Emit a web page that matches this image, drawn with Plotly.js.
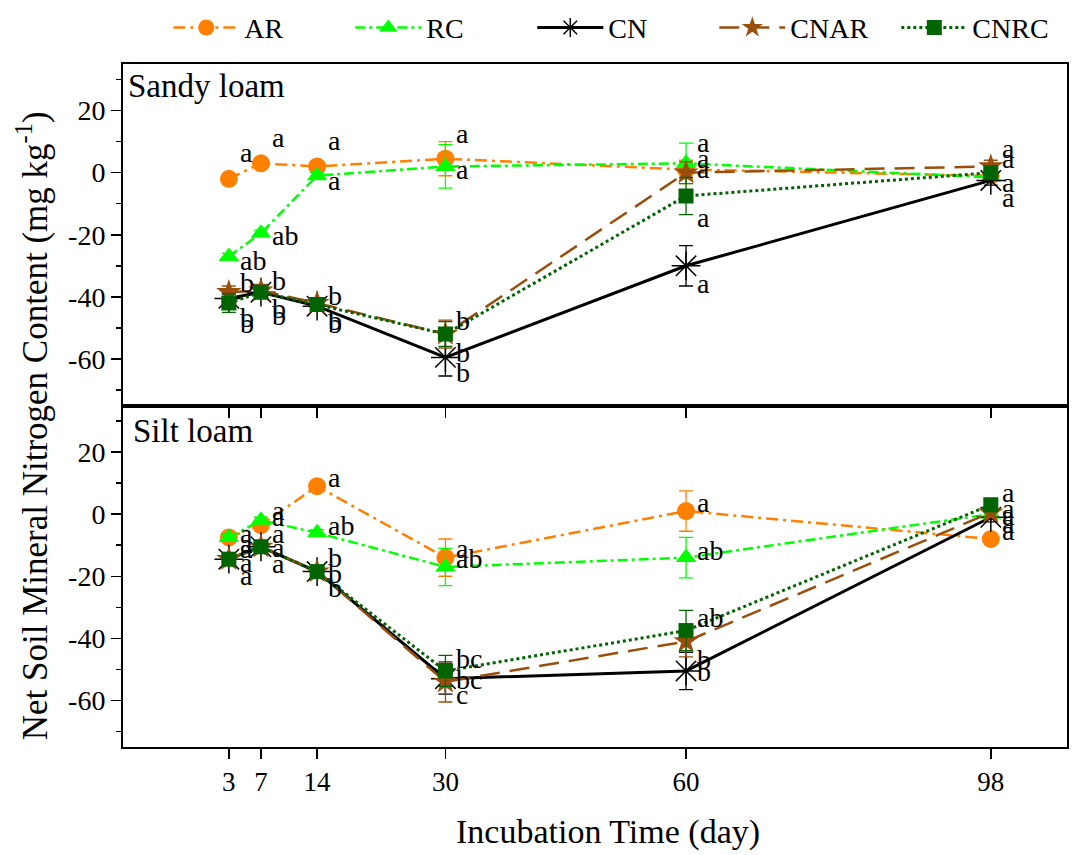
<!DOCTYPE html>
<html>
<head>
<meta charset="utf-8">
<script src="https://cdn.plot.ly/plotly-3.0.1.min.js"></script>
<style>html,body{margin:0;padding:0;background:#fff}#chart{width:1076px;height:855px}</style>
</head>
<body>
<div id="chart"></div>
<script>
// ---- data ----
const days = [3, 7, 14, 30, 60, 98];
const seriesNames = ["AR", "RC", "CN", "CNAR", "CNRC"];
const yTickVals = [-60, -40, -20, 0, 20];
const yTickText = ["-60", "-40", "-20", "0", "20"];

// Sandy loam (top panel)
const sandyAR   = [-2, 3, 2, 4.5, 1, -1];
const sandyRC   = [-27, -19.5, -1, 2, 3, -1.5];
const sandyCN   = [-40.5, -38.5, -43, -59.5, -30, -2.5];
const sandyCNAR = [-38.5, -38, -42, -52, 0, 2];
const sandyCNRC = [-42, -38.5, -42.5, -52, -7.5, 0];
const sandyARerr   = [1, 1, 1, 5.5, 3, 1];
const sandyRCerr   = [1, 1, 1, 7, 6.5, 1];
const sandyCNerr   = [1.5, 1, 1, 6, 6.5, 1.5];
const sandyCNARerr = [2, 2, 1.5, 4.5, 3.5, 2];
const sandyCNRCerr = [3, 2, 2, 4, 6, 1.5];

// Silt loam (bottom panel)
const siltAR   = [-7.5, -3.5, 9, -14, 1, -8];
const siltRC   = [-7.5, -2, -6, -17, -14, 0];
const siltCN   = [-14.5, -10.5, -18.5, -53, -50.5, -1];
const siltCNAR = [-14.5, -10.5, -18.5, -54, -41, 0.5];
const siltCNRC = [-14.5, -10.5, -18.5, -50.5, -37.5, 3];
const siltARerr   = [1, 1, 1, 6, 6.5, 1.5];
const siltRCerr   = [1, 1, 1, 6, 6.5, 1.5];
const siltCNerr   = [1, 1, 1.5, 5, 6, 1.5];
const siltCNARerr = [1, 1, 1.5, 6.5, 5, 1.5];
const siltCNRCerr = [1.5, 1.5, 1.5, 5, 6.5, 1.5];

// significance letters: day, y-position (data units), text
const sandyLblDay  = [3,3,3,3,3, 7,7,7,7,7, 14,14,14,14,14, 30,30,30,30,30, 60,60,60,60,60, 98,98,98,98];
const sandyLblY    = [6.4,-28.3,-35.3,-46.5,-48.5, 11.2,-20.2,-34.7,-43.7,-45.9, 10.3,-2.6,-39.5,-47.5,-48.5, 12.5,1,-47.5,-58,-64.5, 9.6,4.5,1.3,-14.4,-35.6, 7.7,4.5,-3.2,-8];
const sandyLblText = ["a","ab","b","b","b", "a","ab","b","b","b", "a","a","b","b","b", "a","a","b","b","b", "a","a","a","a","a", "a","a","a","a"];

const siltLblDay  = [3,3,3,3,3, 7,7,7,7,7, 14,14,14,14,14, 30,30,30,30,30, 60,60,60,60,60, 98,98,98,98,98];
const siltLblY    = [-6.2,-9.5,-11,-15.6,-19.8, 1.3,-0.6,-6.2,-10.7,-15.9, 11.7,-3.6,-13.9,-19.1,-23.7, -11,-14.3,-46.4,-53.2,-58, 3.9,-11.7,-33.4,-46.7,-50.6, 7.1,1.9,-0.3,-2.9,-5.2];
const siltLblText = ["a","a","a","a","a", "a","a","a","a","a", "a","ab","b","b","b", "a","ab","bc","bc","c", "a","ab","ab","b","b", "a","a","a","a","a"];

// ---- styles ----
const FONT = "Liberation Serif";
const styles = {
  AR:   {color: "#FF8000", dash: "12px,5px,3px,5px", symbol: "circle", size: 18, width: 2.5},
  RC:   {color: "#00FF00", dash: "10px,4px,3px,4px", symbol: "triangle-up", size: 18, width: 2.5},
  CN:   {color: "#000000", dash: "solid", symbol: "asterisk-open", size: 24, width: 3},
  CNAR: {color: "#9A4E0C", dash: "20px,10px", symbol: "star", size: 19, width: 2.5},
  CNRC: {color: "#006400", dash: "dot", symbol: "square", size: 15, width: 3}
};

function mk(name, y, err, xa, ya, showlegend) {
  const s = styles[name];
  return {
    type: "scatter", mode: "lines+markers", name: name,
    x: days, y: y, xaxis: xa, yaxis: ya, showlegend: showlegend, legendgroup: name,
    line: {color: s.color, dash: s.dash, width: s.width},
    marker: {symbol: s.symbol, size: s.size, color: s.color,
             line: {color: s.color, width: name === "CN" ? 1.5 : 0}},
    error_y: {type: "data", array: err, visible: true, color: s.color, thickness: 1.3, width: 7}
  };
}

const sandy = {AR: [sandyAR, sandyARerr], RC: [sandyRC, sandyRCerr], CN: [sandyCN, sandyCNerr], CNAR: [sandyCNAR, sandyCNARerr], CNRC: [sandyCNRC, sandyCNRCerr]};
const silt  = {AR: [siltAR, siltARerr], RC: [siltRC, siltRCerr], CN: [siltCN, siltCNerr], CNAR: [siltCNAR, siltCNARerr], CNRC: [siltCNRC, siltCNRCerr]};

const traces = [];
seriesNames.forEach(n => traces.push(mk(n, sandy[n][0], sandy[n][1], "x2", "y2", true)));
seriesNames.forEach(n => traces.push(mk(n, silt[n][0], silt[n][1], "x", "y", false)));

const LBL = 28;
const annotations = [];
sandyLblDay.forEach((d, i) => annotations.push({
  x: d, y: sandyLblY[i], xref: "x2", yref: "y2", text: sandyLblText[i], showarrow: false,
  xanchor: "left", yanchor: "middle", xshift: 9, font: {family: FONT, size: LBL, color: "#000"}
}));
siltLblDay.forEach((d, i) => annotations.push({
  x: d, y: siltLblY[i], xref: "x", yref: "y", text: siltLblText[i], showarrow: false,
  xanchor: "left", yanchor: "middle", xshift: 9, font: {family: FONT, size: LBL, color: "#000"}
}));
annotations.push({x: 0.003, y: 0.968, xref: "paper", yref: "paper", text: "Sandy loam", showarrow: false,
  xanchor: "left", yanchor: "middle", font: {family: FONT, size: 33, color: "#000"}});
annotations.push({x: 0.009, y: 0.462, xref: "paper", yref: "paper", text: "Silt loam", showarrow: false,
  xanchor: "left", yanchor: "middle", font: {family: FONT, size: 33, color: "#000"}});
annotations.push({x: -0.095, y: 0.47, xref: "paper", yref: "paper", textangle: -90,
  text: "Net Soil Mineral Nitrogen Content (mg kg<sup>-1</sup>)", showarrow: false,
  xanchor: "center", yanchor: "middle", font: {family: FONT, size: 35, color: "#000"}});
annotations.push({x: 0.514, y: -0.1245, xref: "paper", yref: "paper",
  text: "Incubation Time (day)", showarrow: false,
  xanchor: "center", yanchor: "middle", font: {family: FONT, size: 34, color: "#000"}});

const xcommon = {
  range: [-10.2, 107.5], tickmode: "array", tickvals: days, ticktext: days.map(String),
  ticks: "outside", ticklen: 10, tickwidth: 1.5, tickcolor: "#000",
  showline: true, linecolor: "#000", linewidth: 2, mirror: true,
  showgrid: false, zeroline: false,
  tickfont: {family: FONT, size: 27, color: "#000"}
};
const ycommon = {
  range: [-75, 35], tickmode: "array", tickvals: yTickVals, ticktext: yTickText,
  ticks: "outside", ticklen: 10, tickwidth: 1.5, tickcolor: "#000",
  minor: {tickmode: "linear", dtick: 10, tick0: 0, ticks: "outside", ticklen: 5, tickwidth: 1.5, tickcolor: "#000", showgrid: false},
  showline: true, linecolor: "#000", linewidth: 2, mirror: true,
  showgrid: false, zeroline: false,
  tickfont: {family: FONT, size: 28, color: "#000"}
};

const layout = {
  width: 1076, height: 855,
  margin: {l: 123, r: 9, t: 64, b: 108, autoexpand: false},
  paper_bgcolor: "#fff", plot_bgcolor: "#fff",
  font: {family: FONT, color: "#000"},
  xaxis: Object.assign({}, xcommon, {domain: [0, 1], anchor: "y"}),
  xaxis2: Object.assign({}, xcommon, {domain: [0, 1], anchor: "y2", matches: "x", showticklabels: false}),
  yaxis: Object.assign({}, ycommon, {domain: [0, 0.5], anchor: "x"}),
  yaxis2: Object.assign({}, ycommon, {domain: [0.5, 1], anchor: "x2"}),
  showlegend: true,
  legend: {orientation: "h", x: 0.048, y: 1.053, xanchor: "left", yanchor: "middle",
    font: {family: FONT, size: 28, color: "#000"}, itemwidth: 66,
    entrywidth: 101, entrywidthmode: "pixels", bgcolor: "rgba(0,0,0,0)", itemclick: false},
  annotations: annotations
};

Plotly.newPlot("chart", traces, layout, {displayModeBar: false, staticPlot: true});
</script>
</body>
</html>
